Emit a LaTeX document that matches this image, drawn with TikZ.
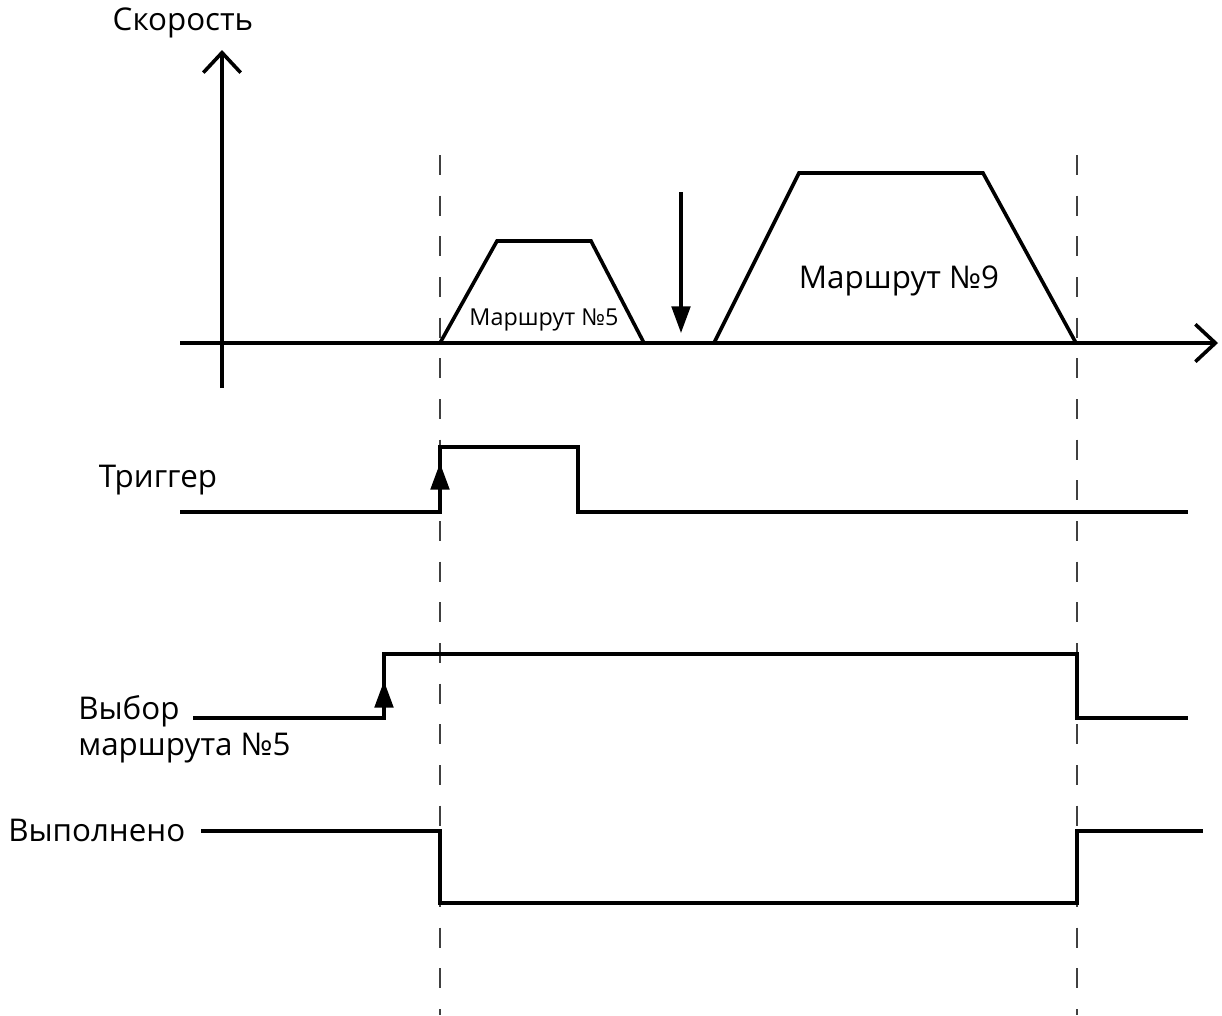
\documentclass[tikz,border=0pt]{standalone}
\usepackage{fontspec}
\setmainfont{Open Sans}
\usetikzlibrary{arrows.meta}
\begin{document}
\begin{tikzpicture}[x=0.75pt,y=-0.75pt,
  sig/.style={line width=2.7pt, line join=miter},
  axis/.style={line width=2.7pt, -{Straight Barb[length=15pt,width=28pt,line width=2.7pt]}},
  guide/.style={line width=2pt, dash pattern=on 15pt off 15.5pt, black!75},
  edgearrow/.style={line width=2.4pt, -{Triangle[length=20pt,width=14pt]}},
  lbl/.style={font=\fontsize{23.5pt}{27pt}\selectfont, inner sep=0pt},
  small/.style={font=\fontsize{17.5pt}{20pt}\selectfont, inner sep=0pt}]
\useasboundingbox (0,0) rectangle (1222,1015);
% guides
\coordinate (g1t) at (440,155); \coordinate (g1b) at (440,1015);
\coordinate (g2t) at (1077,155); \coordinate (g2b) at (1077,1015);
\draw[guide] (g1t) -- (g1b);
\draw[guide] (g2t) -- (g2b);
% axes
\coordinate (yb) at (222,388); \coordinate (yt) at (222,50);
\coordinate (xl) at (180,343); \coordinate (xr) at (1218,343);
\draw[axis] (yb) -- (yt);
\draw[axis] (xl) -- (xr);
\node[lbl] (speed) at (183,23) {Скорость};
% trapezoids
\draw[sig] (440,343) -- (497,241) -- (591,241) -- (644,343);
\draw[sig] (714,343) -- (799,173) -- (983,173) -- (1076,343);
\node[small] (r5) at (544,320) {Маршрут №5};
\node[lbl] (r9) at (899,281) {Маршрут №9};
% down arrow
\coordinate (da) at (681,192); \coordinate (db) at (681,333);
\draw[edgearrow] (da) -- (db);
% trigger
\node[lbl] (trig) at (158,480) {Триггер};
\draw[sig] (180,512) -- (440,512) -- (440,447) -- (578,447) -- (578,512) -- (1188,512);
\coordinate (ta) at (440,512); \coordinate (tb) at (440,463);
\draw[edgearrow] (ta) -- (tb);
% select
\node[lbl, anchor=west, align=left] (sel) at (78,729) {Выбор\\маршрута №5};
\draw[sig] (193,718) -- (384,718) -- (384,654) -- (1077,654) -- (1077,718) -- (1188,718);
\coordinate (sa) at (384,718); \coordinate (sb) at (384,681);
\draw[edgearrow] (sa) -- (sb);
% done
\node[lbl, anchor=west] (done) at (8,830) {Выполнено};
\draw[sig] (201,831) -- (440,831) -- (440,903) -- (1077,903) -- (1077,831) -- (1203,831);
\end{tikzpicture}
\end{document}
